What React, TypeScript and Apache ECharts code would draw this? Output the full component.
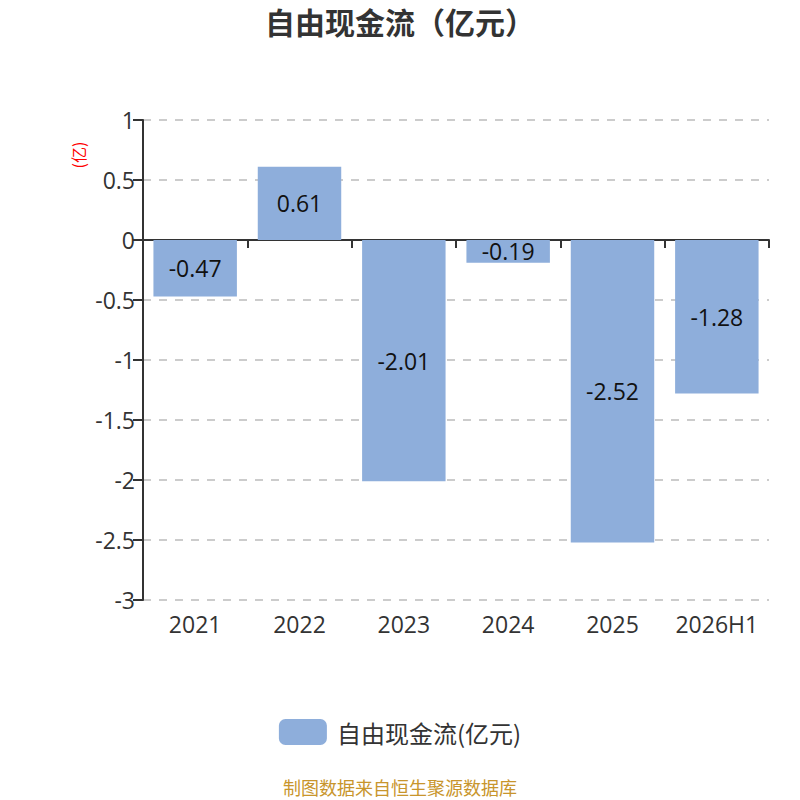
import React, { useEffect, useRef } from "react";
import * as echarts from "echarts";

const categories = ["2021", "2022", "2023", "2024", "2025", "2026H1"];
const values = [-0.47, 0.61, -2.01, -0.19, -2.52, -1.28];
const seriesName = "自由现金流(亿元)";
const titleText = "自由现金流（亿元）";
const unitName = "(亿)";
const footerText = "制图数据来自恒生聚源数据库";

const FONT = "'Noto Sans CJK SC', 'Noto Sans', sans-serif";
const NUMFONT = "'Open Sans', 'Noto Sans CJK SC', sans-serif";

export default function App() {
  const ref = useRef<HTMLDivElement>(null);
  useEffect(() => {
    document.body.style.margin = "0";
    const chart = echarts.init(ref.current!, undefined, { renderer: "svg" });
    chart.setOption({
      animation: false,
      textStyle: { fontFamily: FONT },
      title: {
        text: titleText,
        left: "center",
        top: 1,
        textStyle: { fontSize: 30, fontWeight: "bold", color: "#333", fontFamily: FONT },
      },
      legend: {
        bottom: 50,
        left: "center",
        icon: "roundRect",
        itemWidth: 48,
        itemHeight: 26,
        itemGap: 10,
        textStyle: { fontSize: 24, color: "#333", fontFamily: FONT, padding: [0, 0, 0, 5] },
        data: [seriesName],
      },
      grid: { left: 143, right: 31, top: 120, bottom: 200 },
      xAxis: [
        {
          type: "category",
          data: categories,
          position: "bottom",
          axisLine: { show: false, onZero: false },
          axisTick: { show: false },
          axisLabel: { interval: 0, fontSize: 23, color: "#333", margin: 12, fontFamily: NUMFONT },
        },
        {
          type: "category",
          data: categories,
          position: "bottom",
          axisLine: { show: true, onZero: true, lineStyle: { color: "#333", width: 2 } },
          axisTick: { show: true, interval: 0, length: 8, lineStyle: { color: "#333", width: 2 } },
          axisLabel: { show: false },
        },
      ],
      yAxis: {
        type: "value",
        min: -3,
        max: 1,
        interval: 0.5,
        axisLine: { show: true, lineStyle: { color: "#333", width: 2 } },
        axisTick: { show: true, length: 10, lineStyle: { color: "#333", width: 2 } },
        axisLabel: { fontSize: 23, color: "#333", margin: 8, fontFamily: NUMFONT },
        splitLine: { show: true, lineStyle: { color: "#ccc", type: [8, 8], width: 2 } },
      },
      series: [
        {
          name: seriesName,
          type: "bar",
          xAxisIndex: 0,
          data: values,
          barWidth: "80%",
          itemStyle: { color: "#8eaedb" },
          label: {
            show: true,
            position: "inside",
            fontSize: 23,
            color: "#111",
            fontFamily: NUMFONT,
          },
        },
      ],
      graphic: [
        {
          type: "text",
          x: 78,
          y: 155,
          rotation: Math.PI / 2,
          style: {
            text: unitName,
            fill: "red",
            fontSize: 16,
            fontFamily: FONT,
            align: "center",
            verticalAlign: "middle",
          },
        },
        {
          type: "text",
          left: "center",
          top: 778,
          style: { text: footerText, fill: "#c8952c", fontSize: 18, fontFamily: FONT },
        },
      ],
    });
    return () => chart.dispose();
  }, []);
  return <div ref={ref} style={{ width: 800, height: 800 }} />;
}
